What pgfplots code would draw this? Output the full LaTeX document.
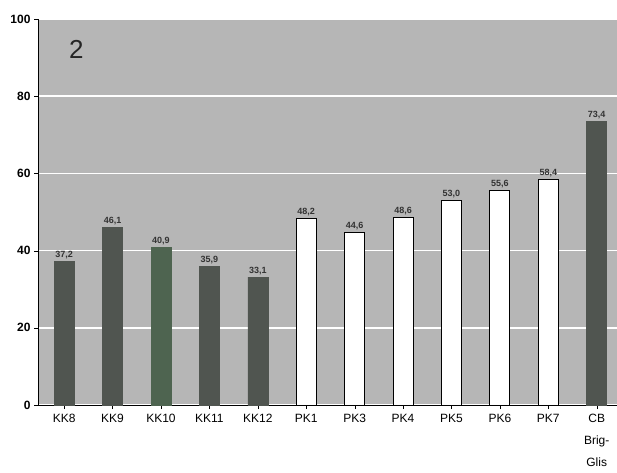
\documentclass[border=0pt]{standalone}
\usepackage{pgfplots}
\pgfplotsset{compat=1.18}
\usepackage{fontspec}
\setmainfont{Liberation Sans}
\definecolor{bg}{HTML}{B6B6B6}
\definecolor{kk}{HTML}{505550}
\definecolor{kkg}{HTML}{4E6450}
\begin{document}
\begin{tikzpicture}
\useasboundingbox (0,0) rectangle (617pt,472pt);
\begin{axis}[
  at={(38pt,67pt)}, anchor=south west,
  scale only axis, width=579pt, height=386pt,
  xmin=-0.54, xmax=11.42, ymin=0, ymax=100,
  ytick={0,20,...,100},
  xtick={0,...,11},
  xticklabels={KK8,KK9,KK10,KK11,KK12,PK1,PK3,PK4,PK5,PK6,PK7,{CB\\Brig-\\Glis}},
  xticklabel style={align=center, font=\fontsize{12}{22}\selectfont, anchor=north, yshift=-2pt},
  yticklabel style={font=\fontsize{12}{12}\selectfont\bfseries},
  /pgf/number format/assume math mode=true,
  axis x line*=bottom, axis y line*=left,
  axis line style={black, -},
  tick style={black}, tick align=outside, major tick length=4pt,
  ymajorgrids, grid style={white, line width=1.6pt},
  axis background/.style={fill=bg},
  ybar, bar width=20pt, bar shift=0pt,
  nodes near coords, point meta=explicit symbolic,
  every node near coord/.append style={font=\fontsize{9}{9}\selectfont\bfseries, text=black!80, yshift=-1pt},
  clip=false,
]
\addplot[fill=kk, draw=kk] table[meta=l] {
x y l
0 37.2 37,2
1 46.1 46,1
3 35.9 35,9
4 33.1 33,1
};
\addplot[fill=kkg, draw=kkg] table[meta=l] {
x y l
2 40.9 40,9
};
\addplot[fill=white, draw=black, line width=1pt] table[meta=l] {
x y l
5 48.2 48,2
6 44.6 44,6
7 48.6 48,6
8 53.0 53,0
9 55.6 55,6
10 58.4 58,4
};
\addplot[fill=kk, draw=kk] table[meta=l] {
x y l
11 73.4 73,4
};
\node[font=\fontsize{26}{26}\selectfont, text=black!85] at (axis cs:0.25,92) {2};
\end{axis}
\end{tikzpicture}
\end{document}
